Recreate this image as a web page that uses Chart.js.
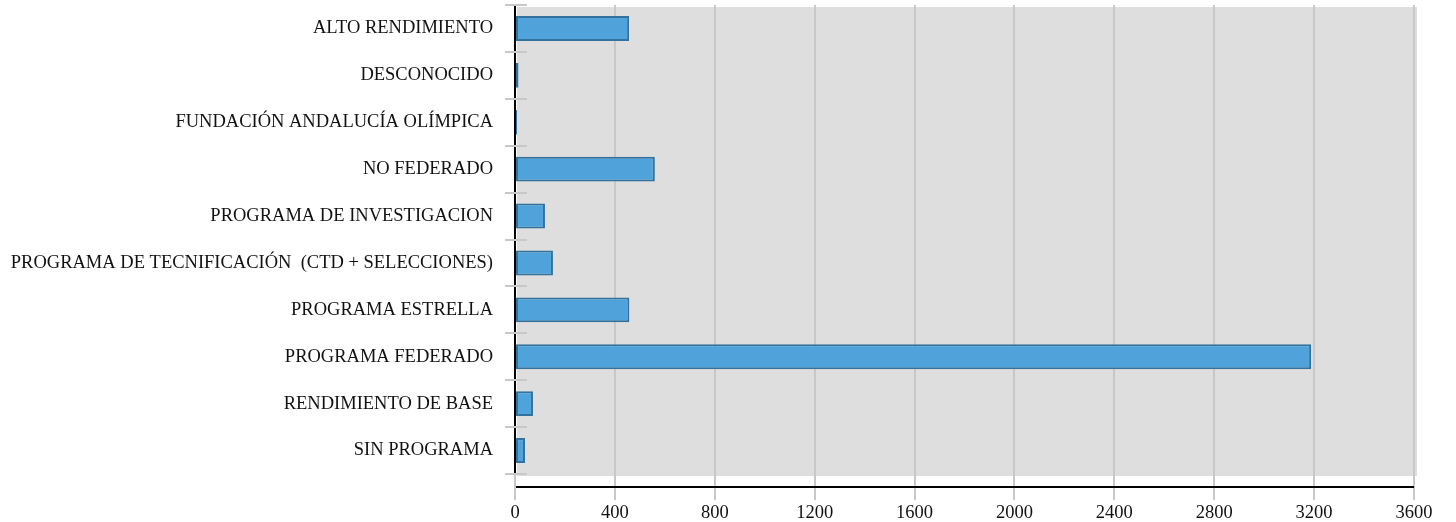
<!DOCTYPE html>
<html>
<head>
<meta charset="utf-8">
<script src="https://cdn.jsdelivr.net/npm/chart.js@4/dist/chart.umd.min.js"></script>
<style>
  html, body { margin: 0; padding: 0; background: #ffffff; }
  #wrap { width: 1456px; height: 522px; position: relative; }
</style>
</head>
<body>
<div id="wrap"><canvas id="c" width="1456" height="522"></canvas></div>
<script>
const categories = [
  "ALTO RENDIMIENTO",
  "DESCONOCIDO",
  "FUNDACIÓN ANDALUCÍA OLÍMPICA",
  "NO FEDERADO",
  "PROGRAMA DE INVESTIGACION",
  "PROGRAMA DE TECNIFICACIÓN  (CTD + SELECCIONES)",
  "PROGRAMA ESTRELLA",
  "PROGRAMA FEDERADO",
  "RENDIMIENTO DE BASE",
  "SIN PROGRAMA"
];
const values = [457, 14, 8, 560, 120, 152, 458, 3188, 72, 40];
const xTickValues = [0, 400, 800, 1200, 1600, 2000, 2400, 2800, 3200, 3600];

const FONT = "'Liberation Serif', 'Times New Roman', serif";

const decor = {
  id: 'decor',
  beforeDraw(chart) {
    const a = chart.chartArea, ctx = chart.ctx;
    ctx.save();
    ctx.fillStyle = '#dedede';
    ctx.fillRect(a.left + 2, a.top + 2, a.right - a.left + 1, a.bottom - a.top);
    ctx.restore();
  },
  afterDraw(chart) {
    const a = chart.chartArea, ctx = chart.ctx;
    const y = chart.scales.y;
    ctx.save();
    // y-axis tick marks between categories
    ctx.strokeStyle = '#c8c8c8';
    ctx.lineWidth = 2;
    const n = categories.length;
    const step = (y.getPixelForValue(1) - y.getPixelForValue(0));
    for (let i = 0; i <= n; i++) {
      const py = Math.round(y.getPixelForValue(i) - step / 2);
      ctx.beginPath();
      ctx.moveTo(a.left - 10, py);
      ctx.lineTo(a.left + 12, py);
      ctx.stroke();
    }
    // x-axis line, offset below plot
    ctx.strokeStyle = '#000000';
    ctx.lineWidth = 2;
    const ay = a.bottom + 13;
    ctx.beginPath();
    ctx.moveTo(a.left + 1, ay);
    ctx.lineTo(a.right, ay);
    ctx.stroke();
    ctx.restore();
  }
};

new Chart(document.getElementById('c'), {
  type: 'bar',
  data: {
    labels: categories,
    datasets: [{
      data: values,
      backgroundColor: '#4fa3da',
      borderColor: '#33729c',
      borderWidth: 2,
      borderSkipped: false,
      barPercentage: 0.53,
      categoryPercentage: 1.0
    }]
  },
  options: {
    indexAxis: 'y',
    responsive: false,
    animation: false,
    devicePixelRatio: 1,
    layout: { autoPadding: false, padding: { top: 5, right: 42, left: 0, bottom: 0 } },
    plugins: { legend: { display: false }, tooltip: { enabled: false } },
    scales: {
      x: {
        type: 'linear',
        min: 0,
        max: 3600,
        afterBuildTicks(scale) { scale.ticks = xTickValues.map(v => ({ value: v })); },
        afterFit(scale) { scale.height = 48; },
        border: { display: false },
        grid: { color: '#c8c8c8', lineWidth: 2, drawTicks: true, tickLength: 26 },
        ticks: {
          font: { family: FONT, size: 18.5 }, color: '#111111', padding: 2, maxRotation: 0,
          callback: (v) => String(v)
        }
      },
      y: {
        type: 'category',
        afterFit(scale) { scale.width = 515; scale.paddingTop = 0; scale.paddingBottom = 0; },
        border: { display: true, color: '#000000', width: 2 },
        grid: { display: false, drawTicks: false },
        ticks: { font: { family: FONT, size: 18.5 }, color: '#111111', padding: 22, autoSkip: false }
      }
    }
  },
  plugins: [decor]
});
</script>
</body>
</html>
